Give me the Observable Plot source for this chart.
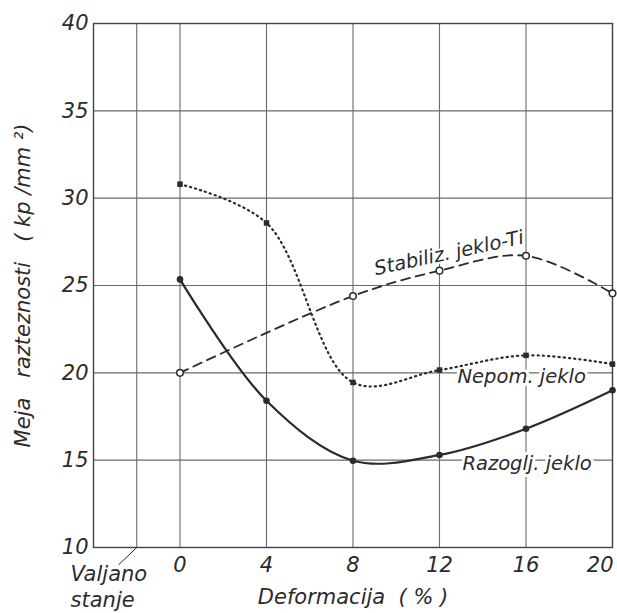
<!DOCTYPE html>
<html>
<head>
<meta charset="utf-8">
<script src="https://cdn.jsdelivr.net/npm/d3@7"></script>
<script src="https://cdn.jsdelivr.net/npm/@observablehq/plot@0.6"></script>
<style>
  body { margin: 0; background: #fff; }
  #chart svg { font-family: "DejaVu Sans", sans-serif; font-style: italic; }
</style>
</head>
<body>
<div id="chart"></div>
<script>
// Yield strength (kp/mm²) versus cold deformation (%)
const deformation = [0, 4, 8, 12, 16, 20];
const razogljValues = [25.35, 18.4, 14.97, 15.3, 16.8, 19.0];
const nepomValues = [30.8, 28.58, 19.45, 20.16, 21.0, 20.5];
const stabilizDeformation = [0, 8, 12, 16, 20];
const stabilizValues = [20.0, 24.4, 25.85, 26.7, 24.55];

const seriesNames = ["Razoglj. jeklo", "Nepom. jeklo", "Stabiliz. jeklo-Ti"];
const rolledStateLabel = ["Valjano", "stanje"];
const xTicks = [0, 4, 8, 12, 16];
const xLastTick = [20];
const xGrid = [-2, 0, 4, 8, 12, 16, 20];
const yTicks = [10, 15, 20, 25, 30, 35, 40];
const xTitle = "Deformacija  ( % )";
const yTitle = "Meja   razteznosti   ( kp /mm ²)";

const razoglj = deformation.map((d, i) => ({d, v: razogljValues[i]}));
const nepom = deformation.map((d, i) => ({d, v: nepomValues[i]}));
const stabiliz = stabilizDeformation.map((d, i) => ({d, v: stabilizValues[i]}));

const ink = "#2b2b2b";
const gridInk = "#6a6a6a";
const fs = 21;
const labelFs = 19.5;

const chart = Plot.plot({
  width: 617,
  height: 613,
  marginLeft: 93,
  marginRight: 5,
  marginTop: 23,
  marginBottom: 66,
  x: {domain: [-4, 20]},
  y: {domain: [10, 40]},
  style: {background: "#fff", color: ink},
  marks: [
    Plot.ruleX(xGrid, {stroke: gridInk, strokeWidth: 1.1}),
    Plot.ruleY(yTicks, {stroke: gridInk, strokeWidth: 1.1}),
    Plot.frame({stroke: "#444", strokeWidth: 1.4}),
    Plot.axisX(xTicks, {tickSize: 0, tickPadding: 10, fontSize: fs, label: xTitle, labelAnchor: "center", labelOffset: 56, labelArrow: false}),
    Plot.axisX(xLastTick, {tickSize: 0, tickPadding: 10, fontSize: fs, textAnchor: "end", dx: 1, label: null}),
    Plot.axisY(yTicks, {tickSize: 0, tickPadding: 5, fontSize: fs, label: yTitle, labelAnchor: "center", labelOffset: 78, labelArrow: false}),

    // "rolled state" column and its leader line
    Plot.link([0], {x1: -2, y1: 10, x2: -2.85, y2: 9, stroke: ink, strokeWidth: 1}),
    Plot.text(rolledStateLabel, {x: -5.06, y: (d, i) => 8.45 - i * 1.45, text: d => d, textAnchor: "start", fontSize: fs, fill: ink}),

    // series labels with a white halo over the grid
    Plot.text([seriesNames[0]], {x: 16.05, y: 14.8, text: d => d, fontSize: labelFs, fill: ink, stroke: "white", strokeWidth: 6}),
    Plot.text([seriesNames[1]], {x: 15.8, y: 19.78, text: d => d, fontSize: labelFs, fill: ink, stroke: "white", strokeWidth: 6}),
    Plot.text([seriesNames[2]], {x: 12.44, y: 26.85, text: d => d, fontSize: labelFs, rotate: -12, fill: ink, stroke: "white", strokeWidth: 4}),

    // curves
    Plot.line(razoglj, {x: "d", y: "v", curve: "catmull-rom", stroke: ink, strokeWidth: 2.2}),
    Plot.line(stabiliz, {x: "d", y: "v", curve: "catmull-rom", stroke: ink, strokeWidth: 1.8, strokeDasharray: "9,6"}),
    Plot.line(nepom, {x: "d", y: "v", curve: "catmull-rom", stroke: ink, strokeWidth: 2.2, strokeDasharray: "1.2,4", strokeLinecap: "round"}),

    // measured points
    Plot.dot(razoglj, {x: "d", y: "v", r: 3.3, fill: ink}),
    Plot.dot(stabiliz, {x: "d", y: "v", r: 3.3, fill: "white", stroke: ink, strokeWidth: 1.5}),
    Plot.dot(nepom, {x: "d", y: "v", r: 3.1, symbol: "square", fill: ink})
  ]
});
document.getElementById("chart").append(chart);
</script>
</body>
</html>
